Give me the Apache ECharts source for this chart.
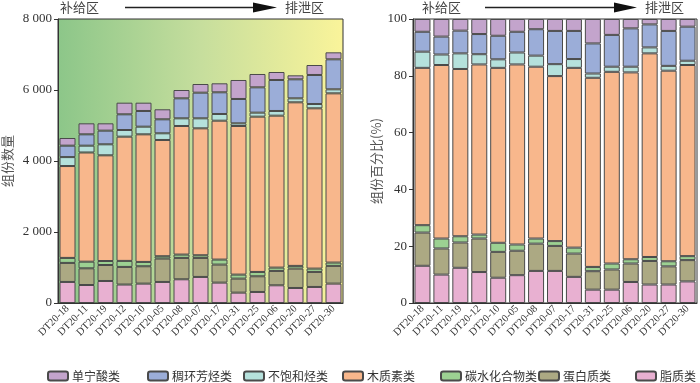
<!DOCTYPE html>
<html>
<head>
<meta charset="utf-8">
<script src="https://cdn.jsdelivr.net/npm/echarts@6/dist/echarts.min.js"></script>
<style>
html,body{margin:0;padding:0;background:#fff;}
#c{width:700px;height:383px;}
</style>
</head>
<body>
<div id="c"></div>
<script>
// ---- data ----
const categories = ['DT20-18','DT20-11','DT20-19','DT20-12','DT20-10','DT20-05','DT20-08','DT20-07','DT20-17','DT20-31','DT20-25','DT20-06','DT20-20','DT20-27','DT20-30'];
const seriesNames = ['脂质类','蛋白质类','碳水化合物类','木质素类','不饱和烃类','稠环芳烃类','单宁酸类'];
const legendOrder = ['单宁酸类','稠环芳烃类','不饱和烃类','木质素类','碳水化合物类','蛋白质类','脂质类'];

// left: component counts (stack segment values)
const lipidCount       = [593,507,620,520,546,593,668,734,574,292,311,499,423,452,546];
const proteinCount     = [536,470,450,496,489,659,602,536,508,395,442,404,546,423,499];
const carbohydrateCount= [141,187,113,170,122,65,94,75,141,113,122,94,76,94,94];
const ligninCount      = [2588,3076,2977,3500,3594,3275,3622,3575,3913,4186,4374,4280,4608,4515,4767];
const unsaturatedCount = [252,192,310,187,216,188,216,282,188,75,113,132,112,122,113];
const aromaticCount    = [322,319,385,442,442,394,563,723,611,686,713,873,536,817,845];
const tanninCount      = [216,310,206,328,234,282,235,244,253,535,376,225,112,281,197];

// right: component percentages (stack segment values)
const lipidPct        = [13.1,10.0,12.4,10.9,8.9,9.8,11.3,11.3,9.2,4.7,4.7,7.4,6.5,6.5,7.6];
const proteinPct      = [11.7,9.2,8.9,11.8,9.1,8.6,9.6,8.8,8.2,6.5,7.1,6.5,8.3,6.4,7.5];
const carbohydratePct = [2.6,3.5,2.2,1.4,3.2,2.2,1.8,1.7,2.1,1.5,2.1,1.5,1.4,1.8,1.4];
const ligninPct       = [55.4,61.1,58.9,59.9,61.6,63.4,60.5,58.1,63.3,66.6,67.5,65.8,71.7,67.1,67.3];
const unsaturatedPct  = [5.7,3.7,5.5,3.6,3.0,4.2,3.9,4.2,3.1,1.5,1.8,2.0,2.1,1.7,1.5];
const aromaticPct     = [7.0,6.3,8.0,7.1,8.3,7.3,9.3,11.7,9.9,10.6,11.2,13.5,8.1,12.3,12.0];
const tanninPct       = [4.5,6.2,4.1,5.3,5.9,4.5,3.6,4.2,4.2,8.6,5.6,3.3,1.9,4.2,2.7];

const leftYTicks = [0,2000,4000,6000,8000];
const rightYTicks = [0,20,40,60,80,100];

const colors = {
  '脂质类':'#e8b0d1',
  '蛋白质类':'#aca983',
  '碳水化合物类':'#9cd192',
  '木质素类':'#f8b78c',
  '不饱和烃类':'#b5e1dc',
  '稠环芳烃类':'#9badd8',
  '单宁酸类':'#c3a4cc'
};

const leftData = [lipidCount,proteinCount,carbohydrateCount,ligninCount,unsaturatedCount,aromaticCount,tanninCount];
const rightData = [lipidPct,proteinPct,carbohydratePct,ligninPct,unsaturatedPct,aromaticPct,tanninPct];

const FONT = "'Liberation Serif','Noto Sans CJK SC',serif";
const CJK = "'Noto Sans CJK SC',sans-serif";

function fmtThousand(v){
  return String(v).replace(/\B(?=(\d{3})+(?!\d))/g,' ');
}

const series = [];
seriesNames.forEach((name,i)=>{
  const common = {
    name, type:'bar', barWidth:16,
    itemStyle:{color:colors[name], borderColor:'#4a4a4a', borderWidth:1},
    emphasis:{disabled:true}
  };
  series.push(Object.assign({}, common, {stack:'L', xAxisIndex:0, yAxisIndex:0, data:leftData[i]}));
  series.push(Object.assign({}, common, {stack:'R', xAxisIndex:1, yAxisIndex:1, data:rightData[i]}));
});

const legendLefts = [47,147,243,342,440,538,635];
const legends = legendOrder.map((n,i)=>({
  data:[n], left:legendLefts[i], top:370, padding:0,
  itemWidth:20, itemHeight:9, itemGap:4,
  textStyle:{fontFamily:CJK, fontSize:12, color:'#333', padding:[0,0,0,-1]},
  selectedMode:false
}));

function xAxis(gi){
  return {
    type:'category', gridIndex:gi, data:categories,
    axisLine:{lineStyle:{color:'#333',width:1}},
    axisTick:{alignWithLabel:true, length:5, lineStyle:{color:'#333'}},
    axisLabel:{rotate:45, fontFamily:FONT, fontSize:10.5, color:'#333', margin:4, interval:0}
  };
}

const option = {
  animation:false,
  grid:[
    {left:58, top:19, width:285, height:284, show:true,
     backgroundColor:new echarts.graphic.LinearGradient(0,0,1,0,[
       {offset:0,color:'#8cc689'},{offset:0.5,color:'#c6de9d'},{offset:1,color:'#faf49a'}]),
     borderColor:'#333', borderWidth:1},
    {left:413, top:19, width:284, height:284, show:true,
     backgroundColor:'#fff', borderColor:'#333', borderWidth:1}
  ],
  legend:legends,
  xAxis:[xAxis(0), xAxis(1)],
  yAxis:[
    {type:'value', gridIndex:0, min:leftYTicks[0], max:leftYTicks[leftYTicks.length-1], interval:leftYTicks[1]-leftYTicks[0],
     name:'组份数量', nameLocation:'middle', nameGap:44, nameRotate:90,
     nameTextStyle:{fontFamily:CJK, fontSize:13, color:'#555'},
     axisLine:{show:true, lineStyle:{color:'#333'}},
     axisTick:{show:true, length:4, lineStyle:{color:'#333'}},
     axisLabel:{fontFamily:FONT, fontSize:13, color:'#333', margin:6, formatter:fmtThousand},
     splitLine:{show:false}},
    {type:'value', gridIndex:1, min:rightYTicks[0], max:rightYTicks[rightYTicks.length-1], interval:rightYTicks[1]-rightYTicks[0],
     name:'组份百分比(%)', nameLocation:'middle', nameGap:30, nameRotate:90,
     nameTextStyle:{fontFamily:CJK, fontSize:13, color:'#555'},
     axisLine:{show:true, lineStyle:{color:'#333'}},
     axisTick:{show:true, length:4, lineStyle:{color:'#333'}},
     axisLabel:{fontFamily:FONT, fontSize:13, color:'#333', margin:6},
     splitLine:{show:false}}
  ],
  series,
  graphic:[
    {type:'text', left:60, top:1, style:{text:'补给区', font:"13px 'Noto Sans CJK SC'", fill:'#444'}},
    {type:'line', shape:{x1:125,y1:7.5,x2:258,y2:7.5}, style:{stroke:'#222', lineWidth:1.3}},
    {type:'polygon', shape:{points:[[253,2.5],[277,7.5],[253,12.5]]}, style:{fill:'#111'}},
    {type:'text', left:285, top:1, style:{text:'排泄区', font:"13px 'Noto Sans CJK SC'", fill:'#444'}},
    {type:'text', left:422, top:1, style:{text:'补给区', font:"13px 'Noto Sans CJK SC'", fill:'#444'}},
    {type:'line', shape:{x1:485,y1:7.5,x2:618,y2:7.5}, style:{stroke:'#222', lineWidth:1.3}},
    {type:'polygon', shape:{points:[[614,2.5],[637,7.5],[614,12.5]]}, style:{fill:'#111'}},
    {type:'text', left:645, top:1, style:{text:'排泄区', font:"13px 'Noto Sans CJK SC'", fill:'#444'}}
  ]
};

const chart = echarts.init(document.getElementById('c'), null, {renderer:'canvas'});
chart.setOption(option);
</script>
</body>
</html>
